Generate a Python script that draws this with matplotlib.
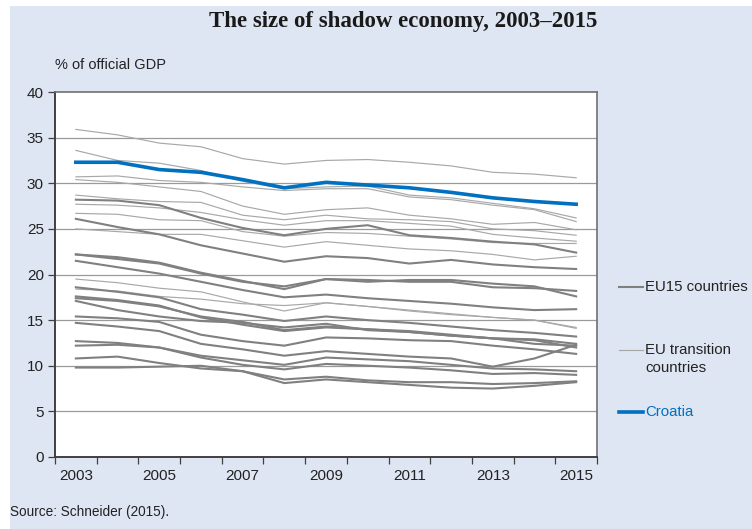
import matplotlib
matplotlib.use("Agg")
import matplotlib.pyplot as plt
from matplotlib.patches import Rectangle
from matplotlib.lines import Line2D

years = list(range(2003, 2016))
year_labels = ["2003", "", "2005", "", "2007", "", "2009", "", "2011", "", "2013", "", "2015"]

# EU15 countries (% of official GDP)
greece      = [28.2, 28.1, 27.6, 26.2, 25.1, 24.3, 25.0, 25.4, 24.3, 24.0, 23.6, 23.3, 22.4]
italy       = [26.1, 25.2, 24.4, 23.2, 22.3, 21.4, 22.0, 21.8, 21.2, 21.6, 21.1, 20.8, 20.6]
portugal    = [22.2, 21.7, 21.2, 20.1, 19.2, 18.7, 19.5, 19.2, 19.4, 19.4, 19.0, 18.7, 17.6]
spain       = [22.2, 21.9, 21.3, 20.2, 19.3, 18.4, 19.5, 19.4, 19.2, 19.2, 18.6, 18.5, 18.2]
belgium     = [21.5, 20.8, 20.1, 19.2, 18.3, 17.5, 17.8, 17.4, 17.1, 16.8, 16.4, 16.1, 16.2]
sweden      = [18.6, 18.1, 17.5, 16.2, 15.6, 14.9, 15.4, 15.0, 14.7, 14.3, 13.9, 13.6, 13.2]
finland     = [17.6, 17.2, 16.6, 15.3, 14.5, 13.8, 14.2, 14.0, 13.7, 13.3, 13.0, 12.9, 12.4]
denmark     = [17.4, 17.1, 16.5, 15.4, 14.8, 13.9, 14.3, 14.0, 13.8, 13.4, 13.0, 12.8, 12.0]
germany     = [17.1, 16.1, 15.4, 14.9, 14.7, 14.2, 14.6, 13.9, 13.7, 13.3, 13.0, 12.4, 12.2]
ireland     = [15.4, 15.2, 14.8, 13.4, 12.7, 12.2, 13.1, 13.0, 12.8, 12.7, 12.2, 11.8, 11.3]
france      = [14.7, 14.3, 13.8, 12.4, 11.8, 11.1, 11.6, 11.3, 11.0, 10.8, 9.9, 10.8, 12.3]
netherlands = [12.7, 12.5, 12.0, 10.9, 10.1, 9.6, 10.2, 10.0, 9.8, 9.5, 9.1, 9.2, 9.0]
uk          = [12.2, 12.3, 12.0, 11.1, 10.6, 10.1, 10.9, 10.7, 10.5, 10.1, 9.7, 9.6, 9.4]
austria     = [10.8, 11.0, 10.3, 9.7, 9.4, 8.1, 8.5, 8.2, 7.9, 7.6, 7.5, 7.8, 8.2]
luxembourg  = [9.8, 9.8, 9.9, 10.0, 9.4, 8.5, 8.8, 8.4, 8.2, 8.2, 8.0, 8.1, 8.3]

# EU transition countries
bulgaria    = [35.9, 35.3, 34.4, 34.0, 32.7, 32.1, 32.5, 32.6, 32.3, 31.9, 31.2, 31.0, 30.6]
romania     = [33.6, 32.5, 32.2, 31.4, 30.2, 29.4, 29.6, 29.7, 28.7, 28.4, 27.8, 27.2, 26.2]
estonia     = [30.7, 30.8, 30.3, 30.1, 29.6, 29.2, 29.4, 29.4, 28.5, 28.2, 27.6, 27.1, 25.8]
latvia      = [30.4, 30.1, 29.6, 29.1, 27.5, 26.6, 27.1, 27.3, 26.5, 26.1, 25.5, 25.7, 24.9]
lithuania   = [28.7, 28.3, 28.0, 27.9, 26.5, 26.0, 26.5, 26.1, 26.0, 25.8, 25.0, 24.8, 24.3]
poland      = [27.7, 27.6, 27.3, 26.8, 26.0, 25.4, 25.9, 25.9, 25.6, 25.3, 24.4, 24.0, 23.65]
slovenia    = [26.7, 26.6, 26.0, 25.9, 24.7, 24.2, 24.6, 24.5, 24.2, 23.9, 23.5, 23.4, 23.4]
hungary     = [25.0, 24.7, 24.4, 24.4, 23.7, 23.0, 23.6, 23.2, 22.8, 22.6, 22.2, 21.6, 22.0]
czech       = [19.5, 19.1, 18.5, 18.1, 17.0, 16.0, 16.9, 16.5, 16.0, 15.6, 15.3, 15.0, 14.1]
slovakia    = [18.4, 18.2, 17.6, 17.3, 16.8, 16.6, 16.9, 16.5, 16.1, 15.7, 15.3, 15.0, 14.2]

# Croatia
croatia     = [32.3, 32.3, 31.5, 31.2, 30.4, 29.5, 30.1, 29.8, 29.5, 29.0, 28.4, 28.0, 27.7]

eu15 = [greece, italy, portugal, spain, belgium, sweden, finland, denmark, germany,
        ireland, france, netherlands, uk, austria, luxembourg]
transition = [bulgaria, romania, estonia, latvia, lithuania, poland, slovenia,
              hungary, czech, slovakia]

BG = "#dfe6f3"
C_EU15 = "#808080"
C_TR = "#a8a8a8"
C_HR = "#0070c0"
SANS = ["Liberation Sans", "DejaVu Sans"]

W, H = 752, 529
fig = plt.figure(figsize=(W / 100, H / 100), dpi=100)
fig.patch.set_facecolor("white")
fig.patches.append(Rectangle((10 / W, 0), 1, 1 - 6 / H, transform=fig.transFigure,
                             facecolor=BG, edgecolor="none", zorder=-10))

ax = fig.add_axes([55 / W, 1 - 457 / H, (597 - 55) / W, (457 - 92) / H])
ax.set_facecolor("white")
x = list(range(len(years)))

for s in transition:
    ax.plot(x, s, color=C_TR, lw=0.85, zorder=2)
for s in eu15:
    ax.plot(x, s, color=C_EU15, lw=1.5, zorder=3)
ax.plot(x, croatia, color=C_HR, lw=2.6, zorder=4)

ax.set_xlim(-0.5, len(years) - 0.5)
ax.set_ylim(0, 40)
ax.set_yticks(range(0, 41, 5))
for v in range(5, 40, 5):
    ax.axhline(v, color="#9a9a9a", lw=0.9, zorder=1)

ax.set_xticks([i - 0.5 for i in range(len(years) + 1)], minor=True)
ax.set_xticks(x)
ax.set_xticklabels(year_labels, fontfamily=SANS, fontsize=11, color="#222222")
ax.tick_params(axis="x", which="major", length=0, pad=9)
ax.tick_params(axis="x", which="minor", length=5, width=0.9, color="#404040", direction="out")
ax.tick_params(axis="y", length=5, width=0.9, color="#404040", direction="out", pad=3)
for lab in ax.get_yticklabels():
    lab.set_fontfamily(SANS)
    lab.set_fontsize(11)
    lab.set_color("#222222")

for side in ["left", "bottom"]:
    ax.spines[side].set_color("#404040")
    ax.spines[side].set_linewidth(1.4)
for side in ["top", "right"]:
    ax.spines[side].set_color("#707070")
    ax.spines[side].set_linewidth(1.2)

fig.text(403 / W, 1 - 22 / H, "The size of shadow economy, 2003\u20132015",
         ha="center", va="center", fontsize=16.5, fontweight="bold",
         family=["Liberation Serif", "DejaVu Serif"], color="#1a1a1a")
fig.text(55 / W, 1 - 65 / H, "% of official GDP", ha="left", va="center",
         fontsize=10.5, family=SANS, color="#222222")
fig.text(10 / W, 1 - 512 / H, "Source: Schneider (2015).", ha="left", va="center",
         fontsize=9.8, family=SANS, color="#222222")

# legend (outside plot)
def leg_line(y, color, lw):
    fig.add_artist(Line2D([619 / W, 643 / W], [1 - y / H, 1 - y / H], color=color, lw=lw,
                          transform=fig.transFigure))

LEG_FS = 10.8
leg_line(287, C_EU15, 1.5)
fig.text(645 / W, 1 - 287 / H, "EU15 countries", ha="left", va="center",
         fontsize=LEG_FS, family=SANS, color="#222222")
leg_line(350, C_TR, 0.85)
fig.text(645 / W, 1 - 350 / H, "EU transition", ha="left", va="center",
         fontsize=LEG_FS, family=SANS, color="#222222")
fig.text(645 / W, 1 - 368 / H, "countries", ha="left", va="center",
         fontsize=LEG_FS, family=SANS, color="#222222")
leg_line(412, C_HR, 2.6)
fig.text(645 / W, 1 - 412 / H, "Croatia", ha="left", va="center",
         fontsize=LEG_FS, family=SANS, color=C_HR)

fig.savefig("out.png", dpi=100, facecolor=fig.get_facecolor())
